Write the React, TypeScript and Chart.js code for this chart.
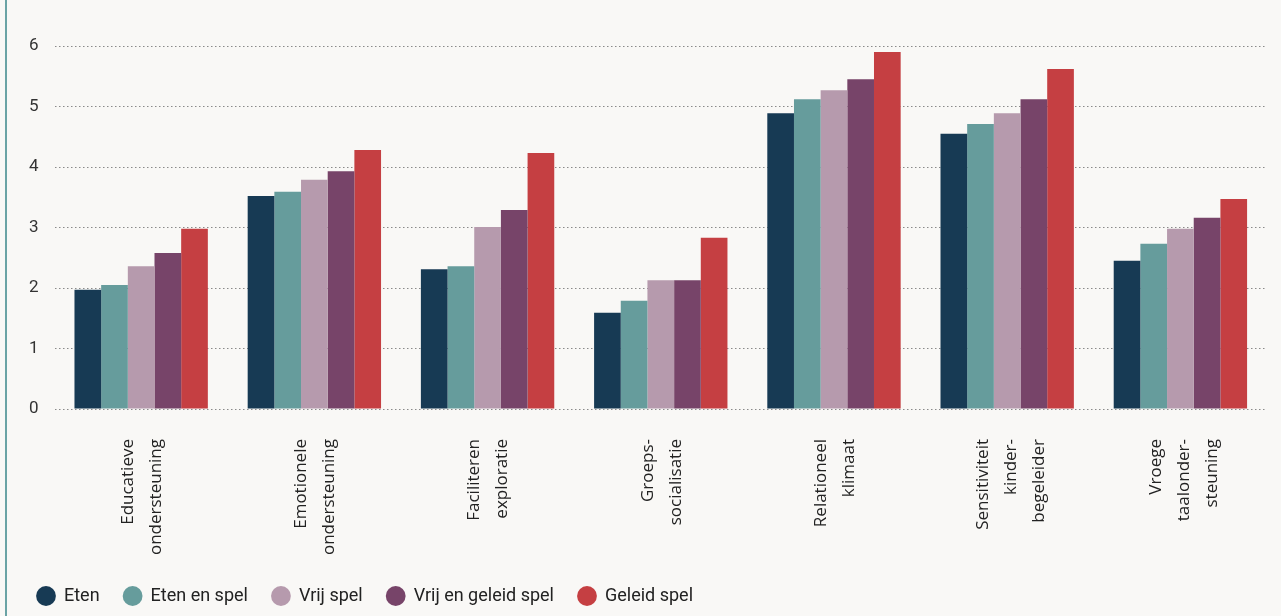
import React, { useEffect, useRef } from "react";
import { Chart, registerables } from "chart.js";

Chart.register(...registerables);

const categories: string[][] = [
  ["Educatieve", "ondersteuning"],
  ["Emotionele", "ondersteuning"],
  ["Faciliteren", "exploratie"],
  ["Groeps-", "socialisatie"],
  ["Relationeel", "klimaat"],
  ["Sensitiviteit", "kinder-", "begeleider"],
  ["Vroege", "taalonder-", "steuning"],
];

const seriesNames = ["Eten", "Eten en spel", "Vrij spel", "Vrij en geleid spel", "Geleid spel"];

const eten = [1.97, 3.52, 2.31, 1.59, 4.89, 4.55, 2.45];
const etenEnSpel = [2.05, 3.59, 2.36, 1.79, 5.12, 4.71, 2.73];
const vrijSpel = [2.36, 3.79, 3.01, 2.13, 5.27, 4.89, 2.98];
const vrijEnGeleidSpel = [2.58, 3.93, 3.29, 2.13, 5.45, 5.12, 3.16];
const geleidSpel = [2.98, 4.28, 4.23, 2.83, 5.9, 5.62, 3.47];

const yTicks = [0, 1, 2, 3, 4, 5, 6];

const colors = ["#173a54", "#669c9c", "#b69aad", "#774469", "#c53f42"];

const LINE_H = 1.65;
const LABEL_SIZE = 17;

export default function App() {
  const ref = useRef<HTMLCanvasElement | null>(null);

  useEffect(() => {
    document.body.style.margin = "0";
    document.body.style.background = "#f9f8f6";
    const values = [eten, etenEnSpel, vrijSpel, vrijEnGeleidSpel, geleidSpel];
    const lh = LABEL_SIZE * LINE_H;
    const labelTicks = (lines: number, offset: number, mirror: boolean) => ({
      autoSkip: false,
      minRotation: 90,
      maxRotation: 90,
      mirror,
      padding: mirror ? -30 : 30,
      labelOffset: offset,
      color: "#222",
      font: { family: "Open Sans", size: LABEL_SIZE, lineHeight: LINE_H },
      callback: (_v: any, i: number) => (categories[i].length === lines ? categories[i] : ""),
    });
    const chart = new Chart(ref.current!, {
      type: "bar",
      data: {
        labels: categories,
        datasets: values.map((v, i) => ({
          label: seriesNames[i],
          data: v,
          backgroundColor: colors[i],
          borderWidth: 0,
          categoryPercentage: 0.77,
          barPercentage: 1,
        })),
      },
      options: {
        animation: false,
        responsive: false,
        maintainAspectRatio: false,
        layout: { padding: { top: 46, left: 13, right: 14, bottom: 1 } },
        plugins: {
          title: { display: false },
          tooltip: { enabled: false },
          legend: {
            position: "bottom",
            align: "start",
            labels: {
              usePointStyle: true,
              pointStyle: "circle",
              boxWidth: 18,
              boxHeight: 14,
              padding: 24,
              color: "#222",
              font: { family: "Roboto", size: 18 },
            },
          },
        },
        scales: {
          x: {
            type: "category",
            position: "bottom",
            weight: 1,
            grid: { display: false, drawTicks: false },
            border: { display: false },
            afterFit: (axis: any) => {
              axis.height = 154;
            },
            ticks: labelTicks(2, -lh / 2 + 1, false),
          },
          x3: {
            type: "category",
            position: "bottom",
            weight: 0,
            offset: true,
            grid: { display: false, drawTicks: false, offset: true },
            border: { display: false },
            afterFit: (axis: any) => {
              axis.height = 0;
            },
            ticks: labelTicks(3, 4, true),
          },
          y: {
            min: 0,
            max: 6,
            afterBuildTicks: (axis: any) => {
              axis.ticks = yTicks.map((v) => ({ value: v }));
            },
            border: { display: false, dash: [1.5, 2.5] },
            grid: {
              color: "#8a8a8a",
              lineWidth: 1,
              drawTicks: false,
            },
            ticks: {
              padding: 16,
              color: "#333",
              font: { family: "Roboto", size: 17 },
            },
          },
        },
      },
    });
    return () => chart.destroy();
  }, []);

  return (
    <div
      style={{
        position: "fixed",
        left: 0,
        top: 0,
        width: 1281,
        height: 616,
        background: "#f9f8f6",
        overflow: "hidden",
      }}
    >
      <div
        style={{
          position: "absolute",
          left: 5,
          top: 0,
          width: 2,
          height: 616,
          background: "#6aa3a5",
        }}
      />
      <canvas
        ref={ref}
        width={1281}
        height={616}
        style={{ position: "absolute", left: 0, top: 0, width: 1281, height: 616 }}
      />
    </div>
  );
}
